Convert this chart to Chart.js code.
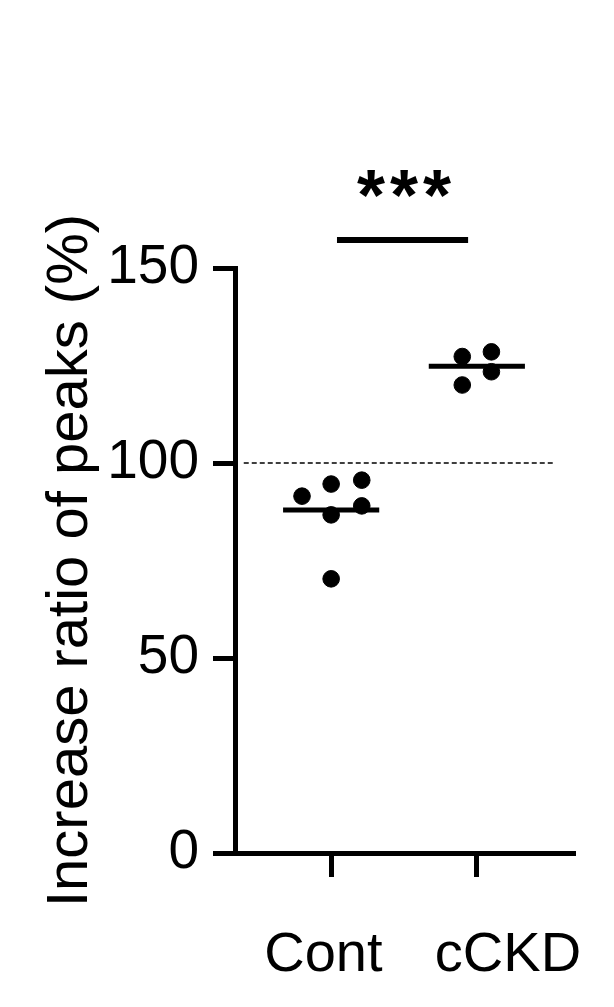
<!DOCTYPE html>
<html>
<head>
<meta charset="utf-8">
<script src="https://cdn.jsdelivr.net/npm/chart.js@4.4.1/dist/chart.umd.min.js"></script>
<style>
  html, body { margin: 0; padding: 0; background: #fff; }
  canvas { display: block; }
</style>
</head>
<body>
<canvas id="c" width="614" height="1007"></canvas>
<script>
// ---- data ----
const categories = ['Cont', 'cCKD'];
const contValues = [91.5, 94.6, 95.6, 86.7, 89.0, 70.3];
const contOffsets = [-0.2, 0, 0.21, 0, 0.21, 0];
const cckdValues = [127.3, 128.5, 120.0, 123.4];
const cckdOffsets = [-0.1, 0.1, -0.1, 0.1];
const yTicks = [0, 50, 100, 150];
const referenceValue = 100;
const sigLabel = '***';
const sigBarValue = 157.2;
const sigLabelValue = 162.3;

// ---- helpers ----
const mean = a => a.reduce((s, v) => s + v, 0) / a.length;
const FONT = '"Liberation Sans", Arial, Helvetica, sans-serif';
const meanHalf = 0.33;
// label padding (spaces) to reproduce the original's off-centre label placement
const labelPad = ['Cont ', '    cCKD'];

const contPts = contValues.map((v, i) => ({ x: 1 + contOffsets[i], y: v }));
const cckdPts = cckdValues.map((v, i) => ({ x: 2 + cckdOffsets[i], y: v }));
const contMean = mean(contValues);
const cckdMean = mean(cckdValues);

const sigPlugin = {
  id: 'sig',
  afterDatasetsDraw(chart) {
    const { ctx, scales: { x, y } } = chart;
    ctx.save();
    ctx.fillStyle = '#000';
    ctx.font = 'bold 72px ' + FONT;
    ctx.textAlign = 'center';
    ctx.textBaseline = 'alphabetic';
    if ('letterSpacing' in ctx) ctx.letterSpacing = '5px';
    ctx.fillText(sigLabel, x.getPixelForValue(1.5) + 2.5, y.getPixelForValue(sigLabelValue));
    ctx.restore();
  }
};

new Chart(document.getElementById('c'), {
  type: 'scatter',
  data: {
    datasets: [
      { data: contPts, backgroundColor: '#000', borderColor: '#000', pointRadius: 8.3, pointHoverRadius: 8.3 },
      { data: cckdPts, backgroundColor: '#000', borderColor: '#000', pointRadius: 8.3, pointHoverRadius: 8.3 },
      { data: [{ x: 1 - meanHalf, y: contMean }, { x: 1 + meanHalf, y: contMean }], showLine: true, borderColor: '#000', borderWidth: 5, pointRadius: 0, borderCapStyle: 'butt' },
      { data: [{ x: 2 - meanHalf, y: cckdMean }, { x: 2 + meanHalf, y: cckdMean }], showLine: true, borderColor: '#000', borderWidth: 5, pointRadius: 0, borderCapStyle: 'butt' },
      { data: [{ x: 0.4, y: referenceValue }, { x: 2.54, y: referenceValue }], showLine: true, borderColor: '#000', borderWidth: 1.6, borderDash: [5, 3], pointRadius: 0, order: 10 },
      { data: [{ x: 1.04, y: sigBarValue }, { x: 1.94, y: sigBarValue }], showLine: true, borderColor: '#000', borderWidth: 6, pointRadius: 0, clip: false }
    ]
  },
  options: {
    responsive: false,
    animation: false,
    devicePixelRatio: 1,
    layout: { padding: { left: 0, right: 41, top: 268, bottom: 0 } },
    plugins: { legend: { display: false }, tooltip: { enabled: false } },
    scales: {
      x: {
        type: 'linear',
        min: 0.34,
        max: 2.66,
        afterBuildTicks: s => { s.ticks = categories.map((c, i) => ({ value: i + 1 })); },
        afterFit: s => { s.height = 154; s.paddingLeft = 0; s.paddingRight = 0; },
        ticks: {
          callback: v => labelPad[v - 1] ?? '',
          color: '#000',
          font: { family: FONT, size: 56 },
          padding: 45,
          maxRotation: 0,
          autoSkip: false
        },
        grid: { drawOnChartArea: false, drawTicks: true, tickLength: 24, lineWidth: 5, tickWidth: 5, color: '#000', tickColor: '#000' },
        border: { display: true, width: 5, color: '#000' }
      },
      y: {
        min: 0,
        max: 150,
        afterBuildTicks: s => { s.ticks = yTicks.map(v => ({ value: v })); },
        afterFit: s => { s.width = 235; },
        ticks: {
          color: '#000',
          font: { family: FONT, size: 55 },
          padding: 14
        },
        title: {
          display: true,
          text: 'Increase ratio of peaks (%)',
          color: '#000',
          font: { family: FONT, size: 58, lineHeight: 1 },
          padding: { top: 42, bottom: 0 }
        },
        grid: { drawOnChartArea: false, drawTicks: true, tickLength: 22, lineWidth: 5, tickWidth: 5, color: '#000', tickColor: '#000' },
        border: { display: true, width: 5, color: '#000' }
      }
    }
  },
  plugins: [sigPlugin]
});
</script>
</body>
</html>
